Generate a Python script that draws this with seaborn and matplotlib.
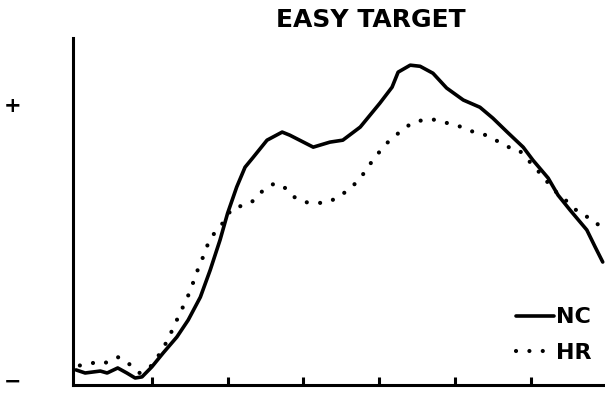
import matplotlib
matplotlib.use("Agg")
import matplotlib.pyplot as plt
import seaborn as sns

# Time (ms) and amplitude samples for the two groups
nc_time = [0, 12, 32, 41, 55, 67, 78, 87, 100, 115, 133, 148, 164, 177, 190, 200,
           212, 223, 233, 252, 272, 282, 295, 313, 335, 352, 375, 401, 417, 425,
           441, 454, 471, 489, 511, 533, 550, 569, 590, 603, 623, 636, 652, 674,
           685, 695]
nc_amp = [0.054, 0.043, 0.050, 0.043, 0.061, 0.043, 0.025, 0.029, 0.065, 0.115,
          0.172, 0.233, 0.315, 0.412, 0.520, 0.616, 0.710, 0.781, 0.814, 0.878,
          0.907, 0.896, 0.878, 0.853, 0.871, 0.878, 0.925, 1.011, 1.068, 1.122,
          1.147, 1.143, 1.118, 1.065, 1.022, 0.996, 0.957, 0.907, 0.853, 0.806,
          0.742, 0.681, 0.627, 0.556, 0.495, 0.441]

hr_time = [5, 11, 22, 34, 45, 55, 66, 74, 84, 98, 114, 127, 133, 144, 150, 160,
           166, 177, 190, 206, 218, 230, 239, 247, 260, 272, 281, 288, 301, 318,
           333, 346, 359, 369, 380, 389, 404, 413, 424, 433, 446, 458, 470, 484,
           497, 509, 522, 537, 550, 562, 571, 583, 594, 603, 615, 625, 636, 652,
           665, 682, 693]
hr_amp = [0.070, 0.072, 0.079, 0.075, 0.086, 0.100, 0.086, 0.065, 0.043, 0.065,
          0.125, 0.197, 0.233, 0.297, 0.333, 0.409, 0.448, 0.527, 0.566, 0.634,
          0.642, 0.652, 0.674, 0.699, 0.720, 0.717, 0.692, 0.674, 0.656, 0.652,
          0.656, 0.674, 0.699, 0.724, 0.760, 0.796, 0.849, 0.875, 0.900, 0.921,
          0.943, 0.950, 0.953, 0.943, 0.935, 0.925, 0.910, 0.900, 0.885, 0.864,
          0.853, 0.846, 0.817, 0.785, 0.753, 0.717, 0.685, 0.649, 0.613, 0.595,
          0.563]

x_ticks = [100, 200, 300, 400, 500, 600]
y_marks = [0, 1]
y_mark_labels = ["\u2212", "+"]
title = "EASY TARGET"
labels = ["NC", "HR"]

sns.set_style("white")
plt.rcParams["font.family"] = ["DejaVu Sans"]
plt.rcParams["text.color"] = "black"
plt.rcParams["ytick.color"] = "black"
plt.rcParams["xtick.color"] = "black"

fig = plt.figure(figsize=(6.05, 3.93), dpi=100)
ax = fig.add_axes([0.1207, 0.0204, 0.8793, 0.8826])

sns.lineplot(x=nc_time, y=nc_amp, ax=ax, color="black", linewidth=2.6,
             label=labels[0], estimator=None, sort=False)
sns.lineplot(x=hr_time, y=hr_amp, ax=ax, color="black", linewidth=3.0,
             label=labels[1], estimator=None, sort=False)
hr_line = ax.get_lines()[1]
hr_line.set_linestyle((0, (0.01, 3.2)))
hr_line.set_dash_capstyle("round")

ax.set_xlim(-4, 698)
ax.set_ylim(0, 1.244)

for side in ["top", "right"]:
    ax.spines[side].set_visible(False)
for side in ["left", "bottom"]:
    ax.spines[side].set_linewidth(2.2)
    ax.spines[side].set_color("black")

ax.set_xticks(x_ticks)
ax.set_xticklabels([])
ax.tick_params(axis="x", direction="in", length=6, width=2.2, color="black",
               bottom=True)

# sign markers at the left margin; the lower one sits by its bottom edge so
# its box stays inside the canvas
ax.set_yticks([])
ymark_tf = ax.get_yaxis_transform()
ax.text(-0.098, y_marks[1], y_mark_labels[1], transform=ymark_tf, ha="right",
        va="center", fontsize=15, fontweight="bold", clip_on=False)
ax.text(-0.098, y_marks[0] - 0.022, y_mark_labels[0], transform=ymark_tf,
        ha="right", va="bottom", fontsize=15, fontweight="bold", clip_on=False)

ax.set_xlabel("")
ax.set_ylabel("")

fig.text(0.613, 0.949, title, ha="center", va="center", fontsize=18,
         fontweight="bold", color="black")

leg = ax.legend(loc="lower right", bbox_to_anchor=(1.0, 0.025), frameon=False,
                handlelength=1.7, handletextpad=0.1, labelspacing=0.7,
                borderaxespad=0.2, prop={"weight": "bold", "size": 16})
for text in leg.get_texts():
    text.set_color("black")

fig.savefig("out.png", dpi=100, facecolor="white")
